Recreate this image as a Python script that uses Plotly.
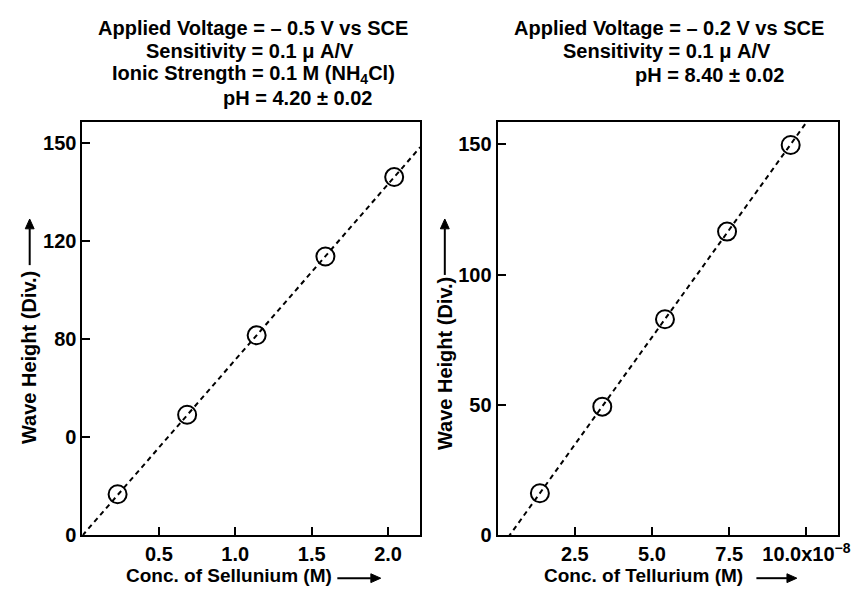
import numpy as np
import plotly.graph_objects as go
from plotly.subplots import make_subplots

# ---- data ----
sel_conc = [0.23, 0.685, 1.14, 1.59, 2.04]          # M
sel_height = [16.8, 49.2, 81.6, 113.7, 146.1]       # Div.
te_conc = [1.37, 3.39, 5.42, 7.43, 9.49]            # x1e-8 M
te_height = [16.2, 49.4, 82.9, 116.5, 149.7]        # Div.

sel_ytickvals = [0, 40, 80, 120, 160]
sel_yticktext = ["0", "0", "80", "120", "150"]      # as printed in the original
sel_xtickvals = [0.5, 1.0, 1.5, 2.0]
sel_xticktext = ["0.5", "1.0", "1.5", "2.0"]
te_ytickvals = [0, 50, 100, 150]
te_yticktext = ["0", "50", "100", "150"]
te_xtickvals = [2.5, 5.0, 7.5, 10.0]
te_xticktext = ["2.5", "5.0", "7.5", "10.0x10<sup>−8</sup>"]

SEL_XMAX, SEL_YMAX = 2.21, 168.4
TE_XMAX, TE_YMAX = 11.02, 158.4

W, H = 859, 591
FONT = "Liberation Sans, Arial, Helvetica, sans-serif"

# fits
sx = np.array(sel_conc); sy = np.array(sel_height)
k_sel = float((sx * sy).sum() / (sx * sx).sum())       # through origin
sel_fit_x = np.array([0.0, SEL_XMAX])
sel_fit_y = k_sel * sel_fit_x

tx = np.array(te_conc); ty = np.array(te_height)
m_te, b_te = np.polyfit(tx, ty, 1)
te_fit_x = np.array([0.0, TE_XMAX])
te_fit_y = m_te * te_fit_x + b_te

fig = make_subplots(rows=1, cols=2)

line_style = dict(color="black", width=2, dash="5px,4px")
marker_style = dict(symbol="circle-open", size=18, color="black", line=dict(width=2, color="black"))

fig.add_trace(go.Scatter(x=sel_fit_x, y=sel_fit_y, mode="lines", line=line_style,
                         showlegend=False, hoverinfo="skip"), row=1, col=1)
fig.add_trace(go.Scatter(x=sel_conc, y=sel_height, mode="markers", marker=marker_style,
                         showlegend=False), row=1, col=1)
fig.add_trace(go.Scatter(x=te_fit_x, y=te_fit_y, mode="lines", line=line_style,
                         showlegend=False, hoverinfo="skip"), row=1, col=2)
fig.add_trace(go.Scatter(x=te_conc, y=te_height, mode="markers", marker=marker_style,
                         showlegend=False), row=1, col=2)

def px_x(p):
    return p / W

def px_y(p):
    return 1 - p / H

ydom = [px_y(537.5), px_y(116.5)]
axis_common = dict(showline=True, linecolor="black", linewidth=2, mirror=True,
                   ticks="inside", ticklen=8, tickwidth=1.5, tickcolor="black",
                   showgrid=False, zeroline=False,
                   tickfont=dict(family=FONT, size=20, color="black", weight="bold"))

fig.update_xaxes(**axis_common)
fig.update_yaxes(**axis_common)

fig.update_layout(
    xaxis=dict(domain=[px_x(75.5), px_x(418)], range=[0, SEL_XMAX],
               tickvals=sel_xtickvals, ticktext=sel_xticktext),
    yaxis=dict(domain=ydom, range=[0, SEL_YMAX],
               tickvals=sel_ytickvals, ticktext=sel_yticktext),
    xaxis2=dict(domain=[px_x(496.5), px_x(841.7)], range=[0, TE_XMAX],
                tickvals=te_xtickvals, ticktext=te_xticktext),
    yaxis2=dict(domain=ydom, range=[0, TE_YMAX],
                tickvals=te_ytickvals, ticktext=te_yticktext),
    width=W, height=H,
    margin=dict(l=0, r=0, t=0, b=0),
    paper_bgcolor="white", plot_bgcolor="white",
    font=dict(family=FONT, color="black"),
)

annotations = []
shapes = []

def text_at(cx, cy, text, size=20, angle=0):
    annotations.append(dict(xref="paper", yref="paper", x=px_x(cx), y=px_y(cy),
                            xanchor="center", yanchor="middle", text=text,
                            showarrow=False, textangle=angle,
                            font=dict(family=FONT, size=size, color="black", weight="bold")))

def arrow(x0, y0, x1, y1, head_len=10, head_w=4.5):
    # tail (x0,y0) -> head (x1,y1), in pixel coordinates
    d = np.hypot(x1 - x0, y1 - y0)
    ux, uy = (x1 - x0) / d, (y1 - y0) / d
    bx, by = x1 - ux * head_len, y1 - uy * head_len
    shapes.append(dict(type="line", xref="paper", yref="paper",
                       x0=px_x(x0), y0=px_y(y0), x1=px_x(bx), y1=px_y(by),
                       line=dict(color="black", width=2)))
    p1 = (bx - uy * head_w, by + ux * head_w)
    p2 = (bx + uy * head_w, by - ux * head_w)
    path = "M {} {} L {} {} L {} {} Z".format(px_x(x1), px_y(y1), px_x(p1[0]), px_y(p1[1]),
                                              px_x(p2[0]), px_y(p2[1]))
    shapes.append(dict(type="path", xref="paper", yref="paper", path=path,
                       fillcolor="black", line=dict(color="black", width=1)))

# titles
text_at(248, 20, "Applied Voltage = – 0.5 V vs SCE")
text_at(245, 44, "Sensitivity = 0.1 μ A/V")
text_at(249, 68, "Ionic Strength = 0.1 M (NH<sub>4</sub>Cl)")
text_at(294, 92, "pH = 4.20 ± 0.02")
text_at(670, 20, "Applied Voltage = – 0.2 V vs SCE")
text_at(668, 44, "Sensitivity = 0.1 μ A/V")
text_at(711, 68, "pH = 8.40 ± 0.02")

# axis titles
text_at(224, 578, "Conc. of Sellunium (M)", size=19)
arrow(334, 581, 378, 581)
text_at(645, 578, "Conc. of Tellurium (M)", size=19)
arrow(759, 581, 800, 581)
text_at(22, 356, "Wave Height (Div.)", size=20, angle=-90)
arrow(22, 262, 22, 215)
text_at(443, 362, "Wave Height (Div.)", size=20, angle=-90)
arrow(443, 272, 443, 215)

fig.update_layout(annotations=annotations, shapes=shapes)

fig.write_html("out.html")
